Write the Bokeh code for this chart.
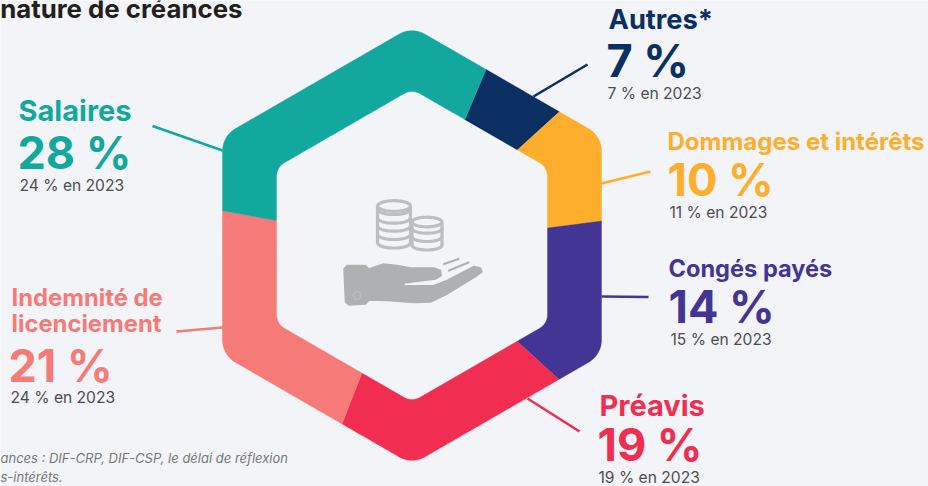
import numpy as np
from bokeh.core.properties import value
from bokeh.embed import file_html
from bokeh.models import Range1d
from bokeh.plotting import figure
from bokeh.resources import INLINE

# ---- data
categories = ["Autres*", "Dommages et intérêts", "Congés payés", "Préavis", "Indemnité de\nlicenciement", "Salaires"]
values_2024 = [7, 10, 14, 19, 21, 28]
values_2023 = [7, 11, 15, 19, 24, 24]
# share of the ring actually drawn for each slice (percent of the turn, measured on the ring)
ring_shares = [6.94, 9.69, 13.8, 19.19, 21.94, 28.44]
colors = ["#0b2e63", "#fdae2d", "#423594", "#f22d52", "#f67a77", "#13a89e"]
start_deg = 22.8

BG = "#f2f4f7"
FONT = "Inter"
W, H = 928, 486
CX, CY = 411.5, 245.0
OUT_APOTHEM, OUT_FILLET = 189.5, 26.0
IN_APOTHEM, IN_FILLET = 135.5, 16.0
BASELINE_FIX = 0.36  # bokeh's svg text sits this many ems under the asked baseline

label_layout = [
    dict(nx=608, vx=606, sx=607, ny=[29], vy=76, sy=99, nsize=27.3),
    dict(nx=667, vx=667, sx=669, ny=[150], vy=195, sy=218, nsize=24),
    dict(nx=668, vx=668, sx=670, ny=[276], vy=322, sy=345, nsize=23.6),
    dict(nx=599, vx=597, sx=598, ny=[415], vy=460, sy=483, nsize=29),
    dict(nx=11, vx=8, sx=10, ny=[306, 332], vy=381, sy=403, nsize=23.8),
    dict(nx=18, vx=17, sx=19, ny=[120], vy=168, sy=191, nsize=29),
]
leaders = [
    ([533, 587], [96, 64]),
    ([601, 650], [183, 171]),
    ([601, 648], [296, 296.5]),
    ([527, 579], [398, 431]),
    ([222, 176], [327, 331]),
    ([222, 152], [150, 125.5]),
]

p = figure(width=W, height=H, x_range=Range1d(0, W), y_range=Range1d(H, 0),
           output_backend="svg", toolbar_location=None,
           x_axis_type=None, y_axis_type=None, min_border=0,
           outline_line_color=None, background_fill_color=BG, border_fill_color=BG)
p.grid.visible = False


def radial_profile(apothem, fillet):
    """Radius of a pointy-top rounded hexagon as a function of clockwise angle from the top."""
    R = (apothem - fillet) / np.cos(np.radians(30))
    xs, ys = [], []
    for i in range(6):
        c = np.radians(60 * i)
        cx, cy = R * np.sin(c), R * np.cos(c)
        phi = np.radians(np.linspace(60 * i - 30, 60 * i + 30, 40))
        ax, ay = cx + fillet * np.sin(phi), cy + fillet * np.cos(phi)
        xs.extend(ax)
        ys.extend(ay)
        n = np.radians(60 * (i + 1))
        nx, ny = R * np.sin(n), R * np.cos(n)
        end = np.radians(60 * i + 30)
        bx, by = nx + fillet * np.sin(end), ny + fillet * np.cos(end)
        t = np.linspace(0, 1, 200)[1:-1]
        xs.extend(ax[-1] + (bx - ax[-1]) * t)
        ys.extend(ay[-1] + (by - ay[-1]) * t)
    xs, ys = np.array(xs), np.array(ys)
    ang = np.degrees(np.arctan2(xs, ys)) % 360
    rad = np.hypot(xs, ys)
    order = np.argsort(ang)
    return ang[order], rad[order]


out_a, out_r = radial_profile(OUT_APOTHEM, OUT_FILLET)
in_a, in_r = radial_profile(IN_APOTHEM, IN_FILLET)


def ring_xy(theta, a, r):
    rr = np.interp(theta % 360, a, r, period=360)
    t = np.radians(theta)
    return CX + rr * np.sin(t), CY - rr * np.cos(t)


for (lx, ly), c in zip(leaders, colors):
    p.line(lx, ly, line_color=c, line_width=2.6)

edges = start_deg + 3.6 * np.concatenate([[0], np.cumsum(ring_shares)])
for i, c in enumerate(colors):
    th = np.linspace(edges[i], edges[i + 1], 500)
    ox, oy = ring_xy(th, out_a, out_r)
    ix, iy = ring_xy(th[::-1], in_a, in_r)
    p.patch(np.concatenate([ox, ix]), np.concatenate([oy, iy]), fill_color=c, line_color=c, line_width=0.4)


def put(x, y, s, color, size, style="normal", align="left"):
    p.text([x], [y - BASELINE_FIX * size], text=[s], text_color=color, text_font=value(FONT),
           text_font_size=f"{size}px", text_font_style=style,
           text_align=align, text_baseline="alphabetic")


for name, v, prev, c, L in zip(categories, values_2024, values_2023, colors, label_layout):
    for line, yy in zip(name.split("\n"), L["ny"]):
        put(L["nx"], yy, line, c, L["nsize"], "bold")
    put(L["vx"], L["vy"], f"{v} %", c, 45, "bold")
    put(L["sx"], L["sy"], f"{prev} % en 2023", "#4d4d4f", 15.6)

put(242, 17, "nature de créances", "#231f20", 25.8, "bold", "right")
put(0, 462, "ances : DIF-CRP, DIF-CSP, le délai de réflexion", "#77787b", 13, "italic")
put(0, 481, "s-intérêts.", "#77787b", 13, "italic")

COIN = "#bdbebf"


def coin_stack(cx, rx, ry, top, bottoms, side_end):
    t = np.linspace(0, 2 * np.pi, 60)
    p.line(cx + rx * np.cos(t), top + ry * np.sin(t), line_color=COIN, line_width=3.2)
    for b in bottoms:
        t2 = np.linspace(0, np.pi, 30)
        p.line(cx + rx * np.cos(t2), b - ry + ry * np.sin(t2), line_color=COIN, line_width=3.2, line_cap="round")
    for sx in (cx - rx, cx + rx):
        p.line([sx, sx], [top, side_end], line_color=COIN, line_width=3.2)


coin_stack(393.5, 16.5, 5.3, 205.5, [214, 222.7, 230.7, 239, 247.5], 242)
coin_stack(426.5, 15, 4.8, 221.5, [232.7, 241, 249.5], 245)

HAND = "#aeb0b1"
hand_x = [343.5, 346.5, 365, 368.5, 383, 396.5, 410, 433.5, 440, 440.7, 435, 403.5, 403.5, 433.5, 446.5, 473.5, 480, 481.5, 476.5, 446.5, 430, 413.5, 386.5, 368.5, 365, 348.5, 345]
hand_y = [268.5, 265, 265, 268.5, 263.5, 265, 267.5, 267.5, 270, 275, 278.5, 282.5, 285.5, 285, 280, 266, 267.5, 271.5, 275, 293.5, 301.5, 302, 300, 299.5, 303.5, 304.5, 301.5]
p.patch(hand_x, hand_y, fill_color=HAND, line_color=HAND, line_width=1.5, line_join="round")
p.line([443.5, 458], [263.5, 258.5], line_color=HAND, line_width=2.2, line_cap="round")
p.line([448.5, 468], [270, 262], line_color=HAND, line_width=2.2, line_cap="round")
p.circle([356.7], [295], radius=4, fill_color=None, line_color="#c4c6c7", line_width=0.8)

open("out.html", "w").write(file_html(p, INLINE))
